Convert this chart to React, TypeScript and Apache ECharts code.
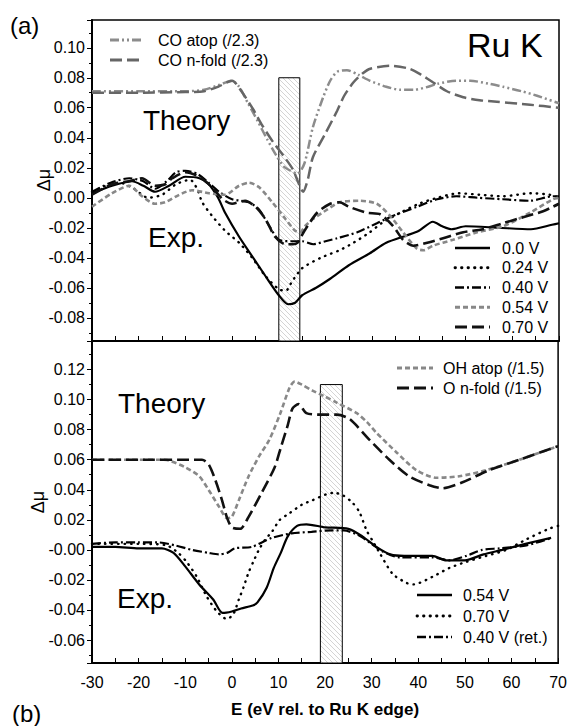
import React, { useEffect, useRef } from 'react';
import * as echarts from 'echarts';

const FONT = "'Liberation Sans', Arial, Helvetica, sans-serif";

// ---- axes ----
const E_MIN = -30;
const E_MAX = 70;
const E_STEP = 10;
const TOP_Y_MIN = -0.0955;
const TOP_Y_MAX = 0.1185;
const BOT_Y_MIN = -0.0753;
const BOT_Y_MAX = 0.139;
const Y_NAME = 'Δμ';
const X_NAME = 'E (eV rel. to Ru K edge)';

// ---- hatched energy windows ----
const TOP_BAND = [10, 14.5, 0.08];
const BOT_BAND = [19, 23.7, 0.11];

// ---- (a) Theory ----
const coAtop = [[-30,0.071],[-20,0.071],[-10,0.071],[-6,0.072],[-3,0.075],[0,0.078],[1.5,0.074],[3.4,0.063],[5.5,0.051],[7.5,0.039],[9.5,0.028],[11,0.021],[12.5,0.018],[14,0.016],[15.5,0.023],[17.3,0.047],[19.5,0.067],[21,0.078],[22.5,0.084],[24.6,0.085],[27,0.082],[29.5,0.078],[33,0.074],[36,0.072],[39,0.072],[42,0.074],[44,0.076],[48,0.078],[51,0.078],[55,0.076],[58,0.074],[62,0.071],[65.3,0.068],[70,0.063]];
const coNfold = [[-30,0.070],[-20,0.070],[-10,0.0705],[-6,0.071],[-3,0.074],[0,0.078],[2,0.071],[4.5,0.059],[6.5,0.048],[8.8,0.037],[11,0.028],[13,0.019],[14.2,0.010],[15.2,0.004],[16.2,0.012],[17.3,0.027],[20,0.043],[22.5,0.058],[24,0.068],[26,0.077],[28,0.083],[29.6,0.086],[33.8,0.088],[38,0.086],[40.5,0.082],[43,0.077],[46,0.071],[49.5,0.067],[53,0.065],[56.7,0.064],[63.8,0.062],[70,0.060]];

// ---- (a) Experiment ----
const expA00 = [[-30,0.003],[-25.7,0.008],[-21.4,0.011],[-19,0.008],[-16.5,0.004],[-13.5,0.008],[-10,0.014],[-7,0.013],[-5,0.009],[-3,0.000],[-1.5,-0.010],[1.5,-0.026],[4.3,-0.039],[7.1,-0.052],[10,-0.065],[12,-0.071],[13.5,-0.070],[15,-0.065],[18,-0.060],[21,-0.054],[25,-0.045],[29.5,-0.037],[33,-0.030],[37.5,-0.025],[40,-0.022],[43,-0.016],[45,-0.019],[47,-0.021],[50,-0.019],[57,-0.020],[64,-0.021],[68.5,-0.018],[70,-0.017]];
const expA024 = [[-30,0.004],[-27,0.008],[-24,0.010],[-21,0.006],[-18,0.000],[-15,0.002],[-12,0.009],[-9,0.012],[-7.5,0.006],[-6.4,-0.003],[-4.3,-0.012],[-1.5,-0.022],[1.5,-0.030],[4.3,-0.040],[7.1,-0.052],[10,-0.061],[11.5,-0.062],[12.8,-0.056],[15,-0.047],[19,-0.040],[23,-0.035],[26,-0.030],[29.5,-0.023],[32,-0.017],[36,-0.010],[40,-0.004],[44,0.000],[48.5,0.003],[53,0.002],[58,0.001],[64,0.003],[68,0.002],[70,0.000]];
const expA040 = [[-30,0.004],[-26,0.010],[-22,0.013],[-19,0.011],[-16.5,0.006],[-14,0.011],[-12,0.017],[-10,0.018],[-7.5,0.016],[-5,0.010],[-2.8,0.004],[0,-0.001],[3.6,-0.003],[5.8,-0.008],[8,-0.019],[10,-0.028],[12.8,-0.029],[15,-0.029],[17.4,-0.031],[20,-0.029],[22.5,-0.027],[26.8,-0.023],[31,-0.017],[34.5,-0.012],[39.6,-0.006],[43.9,-0.001],[48,0.001],[52.5,0.000],[58,-0.001],[63.8,-0.002],[68.7,0.001],[70,0.001]];
const expA054 = [[-30,-0.006],[-25.7,0.003],[-22,0.008],[-19.3,0.001],[-16.5,-0.004],[-14.3,-0.003],[-11.3,0.002],[-8.6,0.005],[-4.9,0.003],[-1.5,0.002],[1.5,0.008],[3.6,0.010],[5.8,0.007],[8.6,-0.003],[11.4,-0.014],[13.5,-0.022],[14.6,-0.023],[15.6,-0.019],[17.4,-0.014],[20.3,-0.008],[23,-0.003],[27.4,-0.002],[31,-0.004],[33.8,-0.012],[36.6,-0.023],[39.6,-0.034],[41,-0.035],[43,-0.032],[47.3,-0.028],[52.5,-0.023],[58,-0.019],[63.8,-0.010],[68.7,-0.001],[70,0.000]];
const expA070 = [[-30,0.002],[-25.7,0.009],[-22,0.011],[-19.3,0.013],[-16.5,0.008],[-14.3,0.009],[-12.8,0.013],[-10,0.017],[-7,0.014],[-4.3,0.007],[-2,-0.001],[0,-0.004],[2.8,-0.002],[5,-0.006],[7.1,-0.014],[9.2,-0.026],[11.4,-0.031],[13,-0.031],[14,-0.030],[15.5,-0.022],[18.2,-0.010],[21,-0.004],[23,-0.003],[25,-0.006],[28.9,-0.010],[31.7,-0.011],[34.5,-0.019],[36.6,-0.028],[38.8,-0.032],[41.8,-0.030],[45.2,-0.027],[49.5,-0.023],[53.7,-0.021],[58,-0.017],[62.3,-0.013],[66.6,-0.009],[68.7,-0.006],[70,-0.004]];

// ---- (b) Theory ----
const ohAtop = [[-30,0.060],[-20,0.060],[-15,0.060],[-13.5,0.0595],[-10,0.055],[-7,0.049],[-5,0.040],[-2.8,0.029],[-1,0.021],[0,0.022],[1.5,0.033],[3.6,0.049],[5.8,0.062],[8,0.073],[10.3,0.090],[12.4,0.108],[13.5,0.112],[15,0.110],[17.3,0.106],[20,0.102],[22.5,0.098],[26.8,0.091],[29,0.085],[31,0.078],[35.3,0.065],[39.6,0.053],[43.9,0.048],[48.8,0.049],[54.6,0.053],[61.7,0.060],[70,0.069]];
const oNfold = [[-30,0.060],[-20,0.060],[-10,0.060],[-6.4,0.060],[-5,0.057],[-3.6,0.047],[-2.1,0.033],[-1.1,0.022],[0,0.015],[1.8,0.014],[3.6,0.022],[6.4,0.038],[9.2,0.055],[10.5,0.068],[12,0.083],[13,0.094],[14.3,0.097],[16,0.091],[18.8,0.090],[22.5,0.090],[25.3,0.087],[29.6,0.073],[33.8,0.060],[38,0.049],[42.4,0.043],[45.2,0.041],[49.5,0.045],[55.2,0.053],[61.7,0.060],[70,0.069]];

// ---- (b) Experiment ----
const expB054 = [[-30,0.002],[-25,0.002],[-20,0.001],[-15,0.001],[-12.5,-0.002],[-10,-0.011],[-7,-0.023],[-4,-0.033],[-2,-0.042],[0,-0.041],[2,-0.039],[4.5,-0.037],[5.5,-0.035],[7.5,-0.025],[9,-0.012],[10.5,-0.002],[12,0.009],[14,0.016],[16,0.017],[20,0.015],[25,0.014],[28,0.009],[31,0.002],[34,-0.003],[37,-0.004],[43,-0.004],[46,-0.007],[50,-0.007],[54,-0.003],[58,0.000],[63,0.004],[68.5,0.008]];
const expB070 = [[-30,0.004],[-20,0.004],[-14,0.003],[-11.5,-0.002],[-9.7,-0.008],[-7.5,-0.018],[-5.4,-0.031],[-3.2,-0.041],[-1.1,-0.046],[0.3,-0.043],[1.5,-0.033],[2.5,-0.025],[3.6,-0.015],[4.6,-0.008],[5.8,0.000],[7.2,0.007],[8.6,0.012],[10.3,0.020],[12.2,0.024],[15,0.030],[17.3,0.033],[20.3,0.037],[22,0.038],[24,0.036],[26,0.031],[27.4,0.025],[28.9,0.013],[30.2,0.006],[31.7,-0.002],[34.5,-0.016],[37.5,-0.022],[39,-0.023],[43,-0.018],[46.7,-0.012],[50.3,-0.008],[54.6,-0.004],[58.9,0.000],[63.2,0.007],[68,0.014],[70,0.016]];
const expB040 = [[-30,0.004],[-25,0.005],[-20,0.005],[-16,0.005],[-12.2,0.003],[-8.6,0.000],[-5,-0.002],[-2.8,-0.003],[-1,-0.002],[0.6,0.001],[4.3,0.002],[8.6,0.008],[12.8,0.011],[17.1,0.012],[21.4,0.013],[24,0.013],[27,0.010],[30,0.004],[32.3,-0.001],[36,-0.005],[43,-0.005],[46.7,-0.007],[50.3,-0.004],[53.7,0.000],[57.4,0.001],[63.2,0.003],[68.7,0.008]];

// ---- line styles ----
const STY: Record<string, { color: string; width: number; dash: any; cap: string }> = {
  coAtop: { color: '#8c8c8c', width: 2.5, dash: [9, 3, 2, 3, 2, 3], cap: 'butt' },
  coNfold: { color: '#666666', width: 2.5, dash: [12, 5], cap: 'butt' },
  solid: { color: '#000000', width: 2.2, dash: 'solid', cap: 'butt' },
  dotted: { color: '#000000', width: 2.4, dash: [0.5, 6], cap: 'round' },
  dashDot: { color: '#000000', width: 2.2, dash: [9, 3, 2, 3], cap: 'butt' },
  grayDash: { color: '#888888', width: 2.6, dash: [5, 3], cap: 'butt' },
  longDash: { color: '#111111', width: 2.6, dash: [12, 5], cap: 'butt' },
};

type S = { name: string; data: number[][]; sty: string; panel: number };
const SERIES: S[] = [
  { name: 'CO atop (/2.3)', data: coAtop, sty: 'coAtop', panel: 0 },
  { name: 'CO n-fold (/2.3)', data: coNfold, sty: 'coNfold', panel: 0 },
  { name: '0.0 V', data: expA00, sty: 'solid', panel: 0 },
  { name: '0.24 V', data: expA024, sty: 'dotted', panel: 0 },
  { name: '0.40 V', data: expA040, sty: 'dashDot', panel: 0 },
  { name: '0.54 V', data: expA054, sty: 'grayDash', panel: 0 },
  { name: '0.70 V', data: expA070, sty: 'longDash', panel: 0 },
  { name: 'OH atop (/1.5)', data: ohAtop, sty: 'grayDash', panel: 1 },
  { name: 'O n-fold (/1.5)', data: oNfold, sty: 'longDash', panel: 1 },
  { name: '0.54 V (b)', data: expB054, sty: 'solid', panel: 1 },
  { name: '0.70 V (b)', data: expB070, sty: 'dotted', panel: 1 },
  { name: '0.40 V (ret.)', data: expB040, sty: 'dashDot', panel: 1 },
];

// legend blocks: [label, style]
const LEGENDS = [
  { x: 110, y: 40, len: 33, gap: 15, step: 20, items: [['CO atop (/2.3)', 'coAtop'], ['CO n-fold (/2.3)', 'coNfold']] },
  { x: 455, y: 248, len: 35, gap: 12, step: 19.75, items: [['0.0 V', 'solid'], ['0.24 V', 'dotted'], ['0.40 V', 'dashDot'], ['0.54 V', 'grayDash'], ['0.70 V', 'longDash']] },
  { x: 397, y: 368, len: 36, gap: 10, step: 20, items: [['OH atop (/1.5)', 'grayDash'], ['O n-fold (/1.5)', 'longDash']] },
  { x: 417, y: 595, len: 35, gap: 11, step: 21, items: [['0.54 V', 'solid'], ['0.70 V', 'dotted'], ['0.40 V (ret.)', 'dashDot']] },
];

const LABELS = [
  { text: '(a)', x: 10, y: 25, size: 24 },
  { text: '(b)', x: 12, y: 713, size: 24 },
  { text: 'Ru K', x: 467, y: 45, size: 34 },
  { text: 'Theory', x: 143, y: 120, size: 28 },
  { text: 'Exp.', x: 148, y: 237, size: 28 },
  { text: 'Theory', x: 118, y: 403, size: 28 },
  { text: 'Exp.', x: 117, y: 598, size: 28 },
];

// rotated y-axis titles (centre points)
const Y_TITLES = [
  { x: 44, y: 180 },
  { x: 38, y: 502 },
];

function hatchPattern() {
  const c = document.createElement('canvas');
  c.width = 5;
  c.height = 5;
  const g = c.getContext('2d')!;
  g.fillStyle = '#ffffff';
  g.fillRect(0, 0, 5, 5);
  g.strokeStyle = '#cfcfcf';
  g.lineWidth = 0.9;
  g.beginPath();
  g.moveTo(0, 0); g.lineTo(5, 5);
  g.moveTo(-1, 4); g.lineTo(1, 6);
  g.moveTo(4, -1); g.lineTo(6, 1);
  g.stroke();
  return { image: c, repeat: 'repeat', imageWidth: 5, imageHeight: 5 };
}

function buildOption() {
  const pattern = hatchPattern();
  const axisColor = '#000';
  const xAxisBase = {
    type: 'value', min: E_MIN, max: E_MAX, interval: E_STEP,
    splitLine: { show: false },
    axisLine: { show: true, onZero: false, lineStyle: { color: axisColor, width: 2 } },
    axisTick: { show: true, inside: true, length: 5, lineStyle: { color: axisColor, width: 1 } },
    minorTick: { show: true, splitNumber: 2, length: 5, lineStyle: { color: axisColor, width: 1 } },
  };
  const yAxisBase = (min: number, max: number, fmt: (v: number) => string) => ({
    type: 'value', min, max, splitNumber: 10,
    splitLine: { show: false },
    axisLine: { show: true, onZero: false, lineStyle: { color: axisColor, width: 2 } },
    axisTick: { show: true, inside: false, length: 5, lineStyle: { color: axisColor, width: 1 } },
    minorTick: { show: true, splitNumber: 2, length: 3, lineStyle: { color: axisColor, width: 1 } },
    axisLabel: { show: true, showMinLabel: false, showMaxLabel: false, fontSize: 16, fontFamily: FONT, color: '#000', margin: 7, formatter: fmt },
  });

  const series: any[] = SERIES.map((s, i) => {
    const st = STY[s.sty];
    const out: any = {
      type: 'line', name: s.name, data: s.data,
      xAxisIndex: s.panel, yAxisIndex: s.panel,
      symbol: 'none', showSymbol: false, smooth: 0.25,
      lineStyle: { color: st.color, width: st.width, type: st.dash, cap: st.cap },
      z: 3, silent: true,
    };
    if (i === 0 || i === 7) {
      const b = i === 0 ? TOP_BAND : BOT_BAND;
      const yMin = i === 0 ? TOP_Y_MIN : BOT_Y_MIN;
      out.markArea = {
        silent: true,
        itemStyle: { color: pattern, borderColor: '#000', borderWidth: 1 },
        data: [[{ coord: [b[0], b[2]] }, { coord: [b[1], yMin] }]],
      };
    }
    return out;
  });

  const graphic: any[] = [];
  LEGENDS.forEach((lg) => {
    lg.items.forEach(([label, sty], k) => {
      const st = STY[sty];
      const y = lg.y + k * lg.step;
      graphic.push({
        type: 'line', silent: true,
        shape: { x1: lg.x, y1: y, x2: lg.x + lg.len, y2: y },
        style: { stroke: st.color, lineWidth: st.width + 0.4, lineDash: st.dash === 'solid' ? null : st.dash, lineCap: st.cap },
      });
      graphic.push({
        type: 'text', silent: true, x: lg.x + lg.len + lg.gap, y,
        style: { text: label, fontSize: 16, fontFamily: FONT, fill: '#000', align: 'left', verticalAlign: 'middle' },
      });
    });
  });
  LABELS.forEach((l) => {
    graphic.push({
      type: 'text', silent: true, x: l.x, y: l.y,
      style: { text: l.text, fontSize: l.size, fontFamily: FONT, fill: '#000', align: 'left', verticalAlign: 'middle' },
    });
  });
  Y_TITLES.forEach((t) => {
    graphic.push({
      type: 'text', silent: true, x: t.x, y: t.y, rotation: Math.PI / 2,
      style: { text: Y_NAME, fontSize: 18, fontFamily: FONT, fill: '#000', align: 'center', verticalAlign: 'middle' },
    });
  });

  return {
    animation: false,
    backgroundColor: '#ffffff',
    textStyle: { fontFamily: FONT },
    grid: [
      { left: 92, top: 20, width: 467, height: 321, show: true, borderColor: '#000', borderWidth: 1.5, backgroundColor: 'transparent' },
      { left: 92, top: 341, width: 467, height: 322, show: true, borderColor: '#000', borderWidth: 1.5, backgroundColor: 'transparent' },
    ],
    xAxis: [
      { ...xAxisBase, gridIndex: 0, axisLabel: { show: false } },
      {
        ...xAxisBase, gridIndex: 1,
        axisLabel: { show: true, fontSize: 16, fontFamily: FONT, color: '#000', margin: 11 },
        name: X_NAME, nameLocation: 'middle', nameGap: 38,
        nameTextStyle: { fontSize: 17, fontWeight: 'bold', fontFamily: FONT, color: '#000' },
      },
    ],
    yAxis: [
      { ...yAxisBase(TOP_Y_MIN, TOP_Y_MAX, (v: number) => v.toFixed(2)), gridIndex: 0 },
      { ...yAxisBase(BOT_Y_MIN, BOT_Y_MAX, (v: number) => (Math.abs(v) < 1e-9 ? '-0.00' : v.toFixed(2))), gridIndex: 1 },
    ],
    series,
    graphic,
  };
}

export default function App() {
  const ref = useRef<HTMLDivElement>(null);
  useEffect(() => {
    if (!ref.current) return;
    const chart = echarts.init(ref.current, null, { renderer: 'svg' });
    chart.setOption(buildOption() as any);
    return () => chart.dispose();
  }, []);
  return (
    <div
      ref={ref}
      style={{ position: 'absolute', left: 0, top: 0, width: 570, height: 726, background: '#fff' }}
    />
  );
}
